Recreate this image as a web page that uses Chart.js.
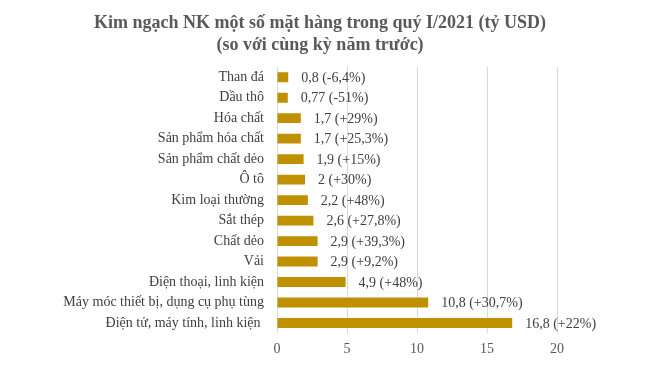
<!DOCTYPE html>
<html>
<head>
<meta charset="utf-8">
<script src="https://cdn.jsdelivr.net/npm/chart.js@4"></script>
<style>
  html, body { margin: 0; padding: 0; background: #fff; }
  #wrap { width: 650px; height: 373px; }
</style>
</head>
<body>
<div id="wrap"><canvas id="myChart" width="650" height="373"></canvas></div>
<script>
// du lieu
const categories = ["Than đá", "Dầu thô", "Hóa chất", "Sản phẩm hóa chất", "Sản phẩm chất dẻo", "Ô tô",
  "Kim loại thường", "Sắt thép", "Chất dẻo", "Vải", "Điện thoại, linh kiện",
  "Máy móc thiết bị, dụng cụ phụ tùng", "Điện tử, máy tính, linh kiện "];
const values = [0.8, 0.77, 1.7, 1.7, 1.9, 2, 2.2, 2.6, 2.9, 2.9, 4.9, 10.8, 16.8];
const changes = ["-6,4%", "-51%", "+29%", "+25,3%", "+15%", "+30%", "+48%", "+27,8%", "+39,3%", "+9,2%", "+48%", "+30,7%", "+22%"];
const xTicks = [0, 5, 10, 15, 20];

const serif = "'Liberation Serif', 'Times New Roman', serif";

// nhan gia tri ben canh cot
const barLabels = {
  id: "barLabels",
  afterDatasetsDraw(chart) {
    const ctx = chart.ctx;
    const meta = chart.getDatasetMeta(0);
    ctx.save();
    ctx.font = "14px " + serif;
    ctx.fillStyle = "#404040";
    ctx.textBaseline = "middle";
    ctx.textAlign = "left";
    meta.data.forEach((bar, i) => {
      const txt = values[i].toString().replace(".", ",") + " (" + changes[i] + ")";
      ctx.fillText(txt, bar.x + 13, bar.y + 1);
    });
    ctx.restore();
  }
};

const ctx = document.getElementById("myChart");

new Chart(ctx, {
  type: "bar",
  data: {
    labels: categories,
    datasets: [{
      data: values,
      backgroundColor: "#BF9000",
      categoryPercentage: 1,
      barPercentage: 0.48
    }]
  },
  options: {
    indexAxis: "y",
    responsive: false,
    animation: false,
    layout: { padding: { left: 0, right: 10, top: 0, bottom: 7 } },
    plugins: {
      legend: { display: false },
      tooltip: { enabled: false },
      title: {
        display: true,
        text: ["Kim ngạch NK một số mặt hàng trong quý I/2021 (tỷ USD)", "(so với cùng kỳ năm trước)"],
        color: "#595959",
        font: { family: serif, size: 18, weight: "bold", lineHeight: 1.25 },
        padding: { top: 12, bottom: 10 }
      }
    },
    scales: {
      x: {
        min: 0,
        max: 20,
        afterBuildTicks: (axis) => { axis.ticks = xTicks.map(v => ({ value: v })); },
        grid: { color: "#d9d9d9", drawTicks: false },
        border: { display: false },
        ticks: { color: "#595959", font: { family: serif, size: 14 }, padding: 8 }
      },
      y: {
        afterFit: (axis) => { axis.width = 277; },
        grid: { display: false, drawTicks: false },
        border: { display: false },
        ticks: { color: "#404040", font: { family: serif, size: 14 }, padding: 13, autoSkip: false }
      },
      // truc phu ben phai, chi de chua cho nhan
      yRight: {
        position: "right",
        afterFit: (axis) => { axis.width = 83; },
        grid: { display: false },
        border: { display: false },
        ticks: { display: false }
      }
    }
  },
  plugins: [barLabels]
});
</script>
</body>
</html>
